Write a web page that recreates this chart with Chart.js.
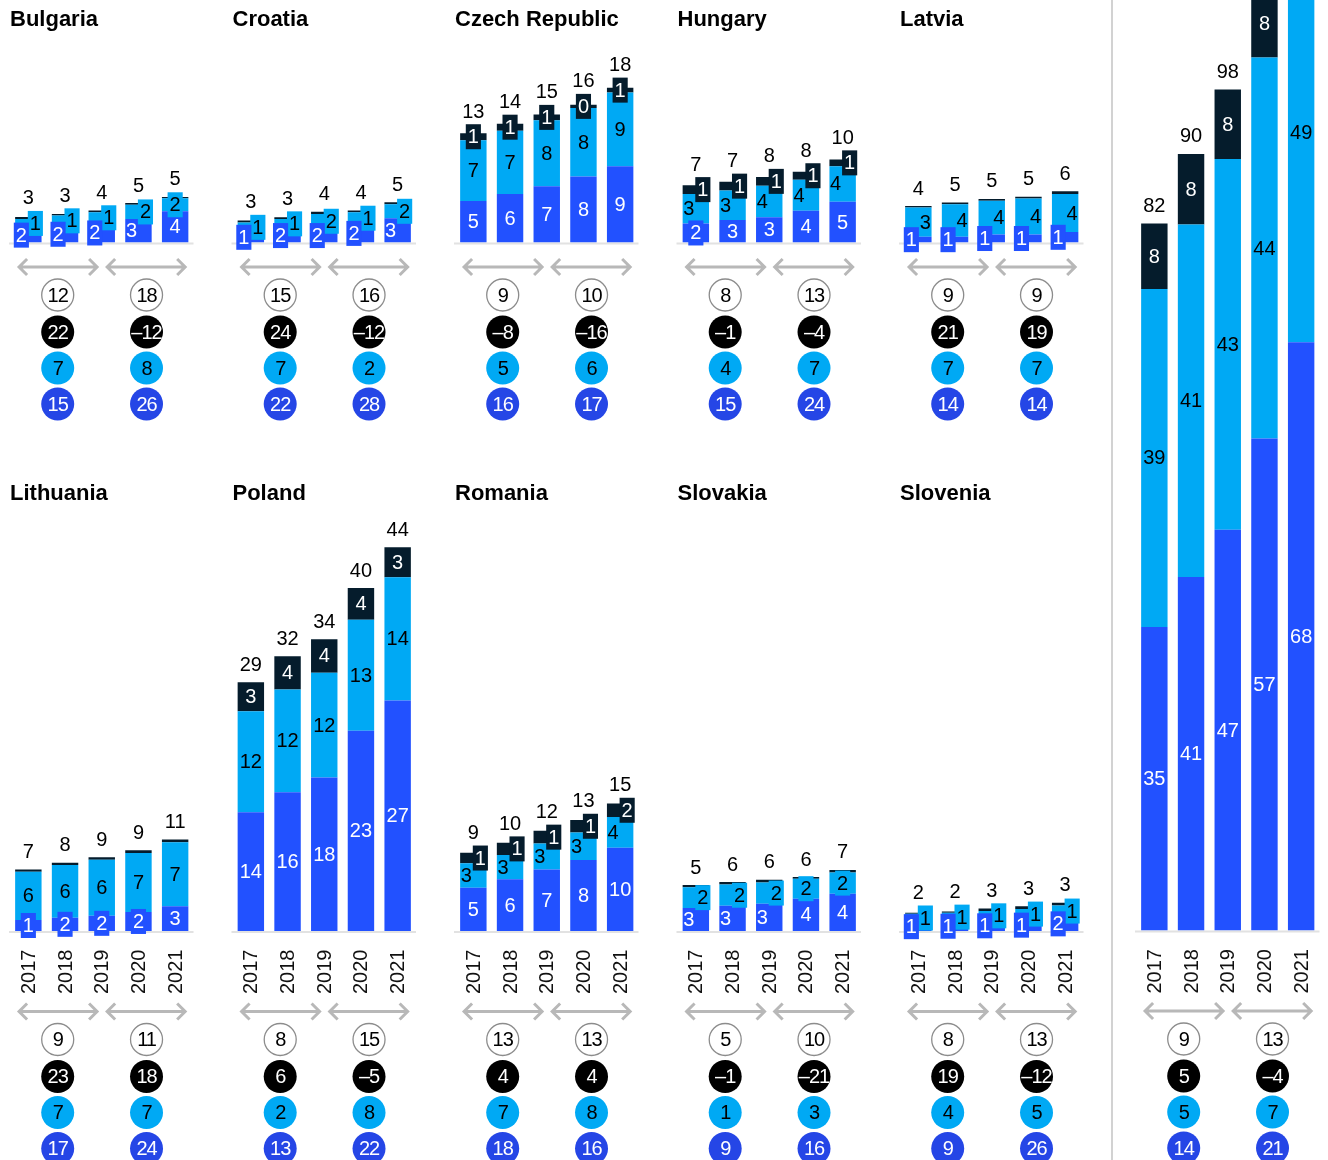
<!DOCTYPE html>
<html>
<head>
<meta charset="utf-8">
<script src="https://cdn.jsdelivr.net/npm/chart.js@4.4.1/dist/chart.umd.min.js"></script>
<style>
  body { margin: 0; background: #fff; }
  #page { position: relative; width: 1328px; height: 1160px; overflow: hidden; }
  #page canvas { position: absolute; display: block; }
  #divider { position: absolute; left: 1111px; top: 0; width: 2px; height: 1160px; background: #d2d2d2; }
</style>
</head>
<body>
<div id="page"><div id="divider"></div></div>
<script>
const years = ['2017', '2018', '2019', '2020', '2021'];

// stacked segments per market, bottom (low) to top
const bulgariaLow = [1.7, 1.9, 2.2, 2.7, 3.6];
const bulgariaMid = [1.0, 1.2, 1.3, 1.65, 1.5];
const bulgariaTop = [0.25, 0.2, 0.2, 0.2, 0.15];
const bulgariaGrowth = [[12, 18], [22, -12], [7, 8], [15, 26]];

const croatiaLow = [1.2, 1.6, 1.6, 2.1, 2.8];
const croatiaMid = [1.1, 1.1, 1.7, 1.4, 1.6];
const croatiaTop = [0.25, 0.2, 0.25, 0.2, 0.25];
const croatiaGrowth = [[15, 16], [24, -12], [7, 2], [22, 28]];

const czechLow = [4.8, 5.6, 6.5, 7.6, 8.8];
const czechMid = [7.0, 7.3, 7.6, 7.9, 8.5];
const czechTop = [0.8, 0.8, 0.66, 0.4, 0.55];
const czechGrowth = [[9, 10], [-8, -16], [5, 6], [16, 17]];

const hungaryLow = [2.2, 2.6, 2.9, 3.65, 4.7];
const hungaryMid = [3.4, 3.4, 3.65, 3.6, 4.1];
const hungaryTop = [1.0, 1.0, 1.0, 0.9, 0.77];
const hungaryGrowth = [[8, 13], [-1, -4], [4, 7], [15, 24]];

const latviaLow = [0.65, 0.65, 0.92, 0.92, 1.2];
const latviaMid = [3.4, 3.77, 3.9, 4.15, 4.4];
const latviaTop = [0.15, 0.2, 0.2, 0.2, 0.3];
const latviaGrowth = [[9, 9], [21, 19], [7, 7], [14, 14]];

const lithuaniaLow = [1.27, 1.54, 1.77, 2.2, 2.85];
const lithuaniaMid = [5.57, 6.07, 6.45, 6.8, 7.4];
const lithuaniaTop = [0.25, 0.25, 0.3, 0.3, 0.3];
const lithuaniaGrowth = [[9, 11], [23, 18], [7, 7], [17, 24]];

const polandLow = [13.7, 16.0, 17.7, 23.1, 26.6];
const polandMid = [11.65, 11.85, 12.1, 12.8, 14.2];
const polandTop = [3.35, 3.85, 3.85, 3.65, 3.46];
const polandGrowth = [[8, 15], [6, -5], [2, 8], [13, 22]];

const romaniaLow = [5.0, 5.96, 7.1, 8.2, 9.6];
const romaniaMid = [2.8, 2.8, 3.0, 3.15, 3.55];
const romaniaTop = [1.23, 1.42, 1.45, 1.46, 1.55];
const romaniaGrowth = [[13, 13], [4, 4], [7, 8], [18, 16]];

const slovakiaLow = [2.65, 2.9, 3.15, 3.73, 4.3];
const slovakiaMid = [2.4, 2.45, 2.45, 2.3, 2.45];
const slovakiaTop = [0.25, 0.3, 0.3, 0.2, 0.3];
const slovakiaGrowth = [[5, 10], [-1, -21], [1, 3], [9, 16]];

const sloveniaLow = [1.0, 1.1, 1.2, 1.35, 1.65];
const sloveniaMid = [1.0, 1.0, 1.1, 1.2, 1.3];
const sloveniaTop = [0.1, 0.15, 0.3, 0.3, 0.3];
const sloveniaGrowth = [[8, 13], [19, -12], [4, 5], [9, 26]];

const totalLow = [35.3, 41.1, 46.6, 57.2, 68.4];
const totalMid = [39.3, 41.0, 43.1, 44.3, 48.8];
const totalTop = [7.6, 8.2, 8.1, 7.9, 7.0];
const totalGrowth = [[9, 13], [5, -4], [5, 7], [14, 21]];

const SEG_COLORS = ['#2251ff', '#00a9f4', '#051c2c'];
const SEG_TEXT = ['#ffffff', '#000000', '#ffffff'];
const DOT_FILL = ['#ffffff', '#000000', '#00a9f4', '#2546e6'];
const DOT_TEXT = ['#000000', '#ffffff', '#000000', '#ffffff'];
const FONT = '"Liberation Sans", Arial, Helvetica, sans-serif';

const PX_PER_UNIT = 8.67;
const PLOT_W = 183.5;
const COL_STEP = 222.5;

function numText(v) {
  return v < 0 ? '\u2013' + Math.abs(v) : String(v);
}

const decor = {
  id: 'decor',
  beforeDatasetsDraw(chart) {
    const {ctx, chartArea: a} = chart;
    ctx.save();
    ctx.fillStyle = '#e2e2e2';
    ctx.fillRect(a.left - 1, a.bottom, a.right - a.left + 1, 2);
    ctx.restore();
  },
  afterDatasetsDraw(chart, args, o) {
    const {ctx, chartArea: a} = chart;
    const xs = chart.scales.x;
    const metas = [0, 1, 2].map(d => chart.getDatasetMeta(d));
    ctx.save();
    ctx.textAlign = 'center';
    ctx.textBaseline = 'middle';

    // title
    if (o.title) {
      ctx.font = 'bold 22px ' + FONT;
      ctx.textAlign = 'left';
      ctx.fillStyle = '#000';
      ctx.fillText(o.title, a.left, o.titleY);
      ctx.textAlign = 'center';
    }

    ctx.font = '20px ' + FONT;
    for (let i = 0; i < years.length; i++) {
      const vals = [0, 1, 2].map(d => chart.data.datasets[d].data[i]);
      const r = vals.map(v => Math.round(v));
      const shown = vals.map((v, d) => d < 2 || v >= 0.35);
      // nudge labels sideways when neighbouring segments are too short
      const shift = [0, 0, 0];
      if (shown[2] && vals[1] <= 4.5) { shift[2] = 7; shift[1] = -7; }
      if (!shift[1] && r[0] + r[1] < 6) { shift[1] = 7; shift[0] = -7; }
      let highest = Infinity;
      for (let d = 2; d >= 0; d--) {
        if (!shown[d]) continue;
        const bar = metas[d].data[i];
        const h = bar.base - bar.y;
        const cx = bar.x + shift[d];
        const cy = (bar.y + bar.base) / 2;
        const txt = String(r[d]);
        const tw = ctx.measureText(txt).width;
        if (h < 22) {
          ctx.fillStyle = SEG_COLORS[d];
          ctx.fillRect(cx - tw / 2 - 2, cy - 12.5, tw + 4, 25);
          highest = Math.min(highest, cy - 12.5);
        }
        ctx.fillStyle = SEG_TEXT[d];
        ctx.fillText(txt, cx, cy + 1);
      }
      // total sits above the bar, and above any label box poking out of it
      const total = Math.round(vals.reduce((s, v) => s + v, 0));
      const topBar = metas[2].data[i];
      ctx.fillStyle = '#000';
      ctx.fillText(String(total), topBar.x, Math.min(topBar.y - 17, highest - 12));
    }

    const extra = o.showYears ? 56 : 0;

    // years
    if (o.showYears) {
      for (let i = 0; i < years.length; i++) {
        ctx.save();
        ctx.translate(xs.getPixelForValue(i), a.bottom + 63);
        ctx.rotate(-Math.PI / 2);
        ctx.textAlign = 'left';
        ctx.fillStyle = '#111';
        ctx.fillText(years[i], 0, 1);
        ctx.restore();
      }
    }

    // period arrows
    const ay = a.bottom + 24.5 + extra;
    ctx.strokeStyle = '#b8b8b8';
    ctx.lineWidth = 3;
    ctx.lineJoin = 'miter';
    [[-0.28, 1.9], [2.12, 4.3]].forEach(([p0, p1]) => {
      const x0 = xs.getPixelForValue(p0), x1 = xs.getPixelForValue(p1);
      ctx.beginPath();
      ctx.moveTo(x0 + 1, ay);
      ctx.lineTo(x1 - 1, ay);
      ctx.moveTo(x0 + 9, ay - 8);
      ctx.lineTo(x0 + 1, ay);
      ctx.lineTo(x0 + 9, ay + 8);
      ctx.moveTo(x1 - 9, ay - 8);
      ctx.lineTo(x1 - 1, ay);
      ctx.lineTo(x1 - 9, ay + 8);
      ctx.stroke();
    });

    // growth dots
    const dotY = [52.5, 89.5, 125.5, 161.5];
    ctx.letterSpacing = '-1px';
    o.growth.forEach((pair, k) => {
      pair.forEach((v, j) => {
        const cx = xs.getPixelForValue(j === 0 ? 0.8 : 3.22);
        const cy = a.bottom + dotY[k] + extra;
        ctx.beginPath();
        ctx.arc(cx, cy, 16.5, 0, Math.PI * 2);
        ctx.fillStyle = DOT_FILL[k];
        ctx.fill();
        if (k === 0) {
          ctx.lineWidth = 1.3;
          ctx.strokeStyle = '#8c8c8c';
          ctx.beginPath();
          ctx.arc(cx, cy, 16, 0, Math.PI * 2);
          ctx.stroke();
        }
        ctx.fillStyle = DOT_TEXT[k];
        ctx.fillText(numText(v), cx, cy + 1);
      });
    });
    ctx.restore();
  }
};

function makePanel(p) {
  const canvas = document.createElement('canvas');
  canvas.width = p.cw;
  canvas.height = p.ch;
  canvas.style.left = p.cl + 'px';
  canvas.style.top = p.ct + 'px';
  canvas.style.width = p.cw + 'px';
  canvas.style.height = p.ch + 'px';
  document.getElementById('page').appendChild(canvas);

  const padLeft = p.areaLeft - p.cl;
  const padRight = p.cl + p.cw - (p.areaLeft + PLOT_W);
  const padTop = p.areaTop - p.ct;
  const padBottom = p.ct + p.ch - p.baseline;

  new Chart(canvas.getContext('2d'), {
    type: 'bar',
    data: {
      labels: years,
      datasets: [p.low, p.mid, p.top].map((d, k) => ({
        data: d,
        backgroundColor: SEG_COLORS[k],
        borderWidth: 0,
        barPercentage: 0.72,
        categoryPercentage: 1,
        stack: 'a'
      }))
    },
    options: {
      responsive: false,
      animation: false,
      layout: { padding: { left: padLeft, right: padRight, top: padTop, bottom: padBottom } },
      scales: {
        x: { display: false, stacked: true, offset: true },
        y: { display: false, stacked: true, min: 0, max: (p.baseline - p.areaTop) / (p.pxPerUnit || PX_PER_UNIT) }
      },
      plugins: {
        legend: { display: false },
        tooltip: { enabled: false },
        decor: { title: p.name, titleY: p.titleY - p.ct, showYears: p.showYears, growth: p.growth }
      }
    },
    plugins: [decor]
  });
}

const topRow = [
  {name: 'Bulgaria', low: bulgariaLow, mid: bulgariaMid, top: bulgariaTop, growth: bulgariaGrowth},
  {name: 'Croatia', low: croatiaLow, mid: croatiaMid, top: croatiaTop, growth: croatiaGrowth},
  {name: 'Czech Republic', low: czechLow, mid: czechMid, top: czechTop, growth: czechGrowth},
  {name: 'Hungary', low: hungaryLow, mid: hungaryMid, top: hungaryTop, growth: hungaryGrowth},
  {name: 'Latvia', low: latviaLow, mid: latviaMid, top: latviaTop, growth: latviaGrowth}
];
const bottomRow = [
  {name: 'Lithuania', low: lithuaniaLow, mid: lithuaniaMid, top: lithuaniaTop, growth: lithuaniaGrowth},
  {name: 'Poland', low: polandLow, mid: polandMid, top: polandTop, growth: polandGrowth},
  {name: 'Romania', low: romaniaLow, mid: romaniaMid, top: romaniaTop, growth: romaniaGrowth},
  {name: 'Slovakia', low: slovakiaLow, mid: slovakiaMid, top: slovakiaTop, growth: slovakiaGrowth},
  {name: 'Slovenia', low: sloveniaLow, mid: sloveniaMid, top: sloveniaTop, growth: sloveniaGrowth}
];

topRow.forEach((c, col) => {
  const areaLeft = 10 + col * COL_STEP;
  makePanel(Object.assign({}, c, {
    cl: Math.round(areaLeft - 10), ct: 0, cw: 222, ch: 470,
    areaLeft: areaLeft, areaTop: 40, baseline: 242.5,
    titleY: 20, showYears: false
  }));
});

bottomRow.forEach((c, col) => {
  const areaLeft = 10 + col * COL_STEP;
  makePanel(Object.assign({}, c, {
    cl: Math.round(areaLeft - 10), ct: 470, cw: 222, ch: 690,
    areaLeft: areaLeft, areaTop: 510, baseline: 931,
    titleY: 494, showYears: true
  }));
});

// all markets combined, drawn on a slightly tighter scale
makePanel({
  name: '', low: totalLow, mid: totalMid, top: totalTop, growth: totalGrowth,
  cl: 1114, ct: 0, cw: 214, ch: 1160,
  areaLeft: 1136, areaTop: 0, baseline: 930.5, pxPerUnit: 8.6,
  titleY: 0, showYears: true
});
</script>
</body>
</html>
